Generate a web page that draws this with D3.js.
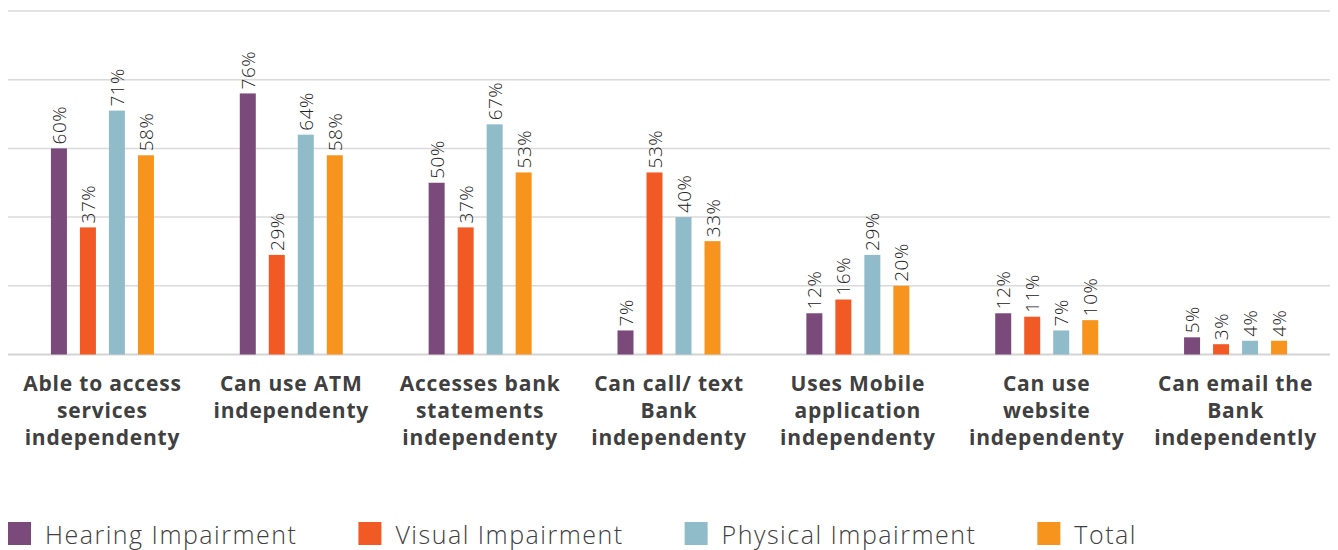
<!DOCTYPE html>
<html><head><meta charset="utf-8">
<script src="https://cdn.jsdelivr.net/npm/d3@7"></script>
<style>body{margin:0;background:#fff}svg{display:block}</style>
</head><body>
<svg id="c" width="1338" height="550"></svg>
<script>
const categories = [
  ["Able to access","services","independenty"],
  ["Can use ATM","independenty"],
  ["Accesses bank","statements","independenty"],
  ["Can call/ text","Bank","independenty"],
  ["Uses Mobile","application","independenty"],
  ["Can use","website","independenty"],
  ["Can email the","Bank","independently"]
];
const seriesNames = ["Hearing Impairment","Visual Impairment","Physical Impairment","Total"];
const hearing  = [60, 76, 50, 7, 12, 12, 5];
const visual   = [37, 29, 37, 53, 16, 11, 3];
const physical = [71, 64, 67, 40, 29, 7, 4];
const total    = [58, 58, 53, 33, 20, 10, 4];
const gridTicks = [0, 20, 40, 60, 80, 100];
const colors = ["#7A4A7A","#F15A24","#8FBCC8","#F7941D"];

(function(){
const seriesVals = [hearing, visual, physical, total];
const svg = d3.select("#c");
const mLeft = 8, mRight = 1330, mTop = 11, mBottom = 354.5;

const x0 = d3.scaleBand().domain(d3.range(categories.length)).range([mLeft, mRight]).padding(0);
const x1 = d3.scaleBand().domain(d3.range(4)).range([-58, 58]).paddingInner(13/29).paddingOuter(6.5/29);
const y = d3.scaleLinear().domain([0, 100]).range([mBottom, mTop]);

svg.append("g").selectAll("line").data(gridTicks).join("line")
  .attr("x1", mLeft).attr("x2", mRight)
  .attr("y1", d => y(d)).attr("y2", d => y(d))
  .attr("stroke", d => d === 0 ? "#d4d4d4" : "#dadada").attr("stroke-width", d => d === 0 ? 2 : 1.5);

const g = svg.append("g").selectAll("g").data(categories).join("g")
  .attr("transform", (d, i) => `translate(${x0(i) + x0.bandwidth()/2},0)`);

g.each(function(cat, ci) {
  const gg = d3.select(this);
  seriesVals.forEach((vals, si) => {
    const v = vals[ci];
    gg.append("rect")
      .attr("x", x1(si)).attr("width", x1.bandwidth())
      .attr("y", y(v)).attr("height", y(0) - y(v))
      .attr("fill", colors[si]);
    const cx = x1(si) + x1.bandwidth()/2;
    gg.append("text")
      .attr("transform", `translate(${cx},${y(v) - 4}) rotate(-90)`)
      .attr("dominant-baseline", "central")
      .attr("font-family", "Open Sans, sans-serif")
      .attr("font-weight", 300)
      .attr("font-size", 19).attr("letter-spacing", 0.5).attr("fill", "#222")
      .text(v + "%");
  });
  cat.forEach((line, li) => {
    gg.append("text")
      .attr("x", 0).attr("y", 391 + li * 27)
      .attr("text-anchor", "middle")
      .attr("font-family", "Open Sans, sans-serif")
      .attr("font-weight", 700).attr("font-size", 21).attr("letter-spacing", 0.8)
      .attr("fill", "#404040")
      .text(line);
  });
});

const lg = svg.append("g");
let lx = 8;
seriesNames.forEach((name, i) => {
  lg.append("rect").attr("x", lx).attr("y", 522).attr("width", 23).attr("height", 23).attr("fill", colors[i]);
  const t = lg.append("text").attr("x", lx + 37).attr("y", 544)
    .attr("font-family", "Open Sans, sans-serif").attr("font-weight", 300).attr("font-size", 25)
    .attr("letter-spacing", 1.5)
    .attr("fill", "#404040").text(name);
  lx += 37 + t.node().getComputedTextLength() + 61;
});
})();
</script>
</body></html>
